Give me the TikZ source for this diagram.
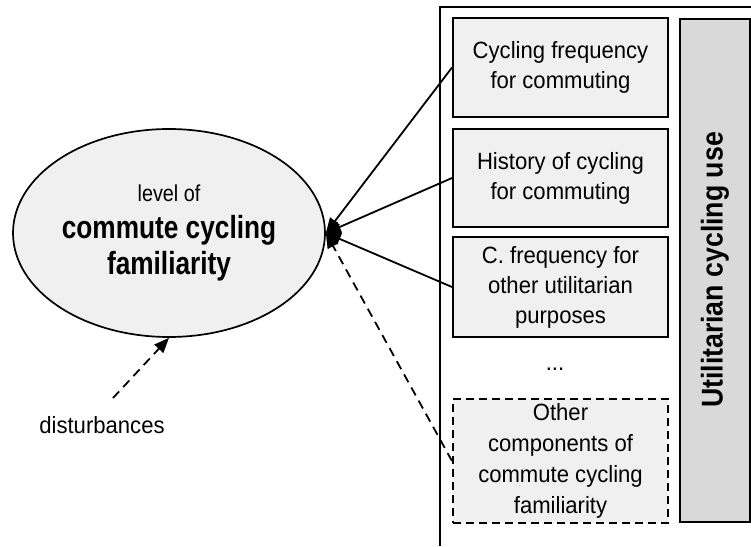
\documentclass[tikz,border=0pt]{standalone}
\usepackage{fontspec}
\setmainfont{Liberation Sans}
\newfontfamily\boxfont[FakeStretch=0.94]{Liberation Sans}
\newfontfamily\leadfont[FakeStretch=0.86]{Liberation Sans}
\newfontfamily\headfont[FakeStretch=0.82]{Liberation Sans Bold}
\newfontfamily\sidefont[FakeStretch=0.89]{Liberation Sans Bold}
\usetikzlibrary{shapes.geometric,arrows.meta}

\definecolor{boxgray}{HTML}{F0F0F0}
\definecolor{bargray}{HTML}{D9D9D9}

\begin{document}
\begin{tikzpicture}[x=1pt,y=-1pt,
  txt/.style={font=\boxfont\fontsize{23.5}{30}\selectfont},
  item/.style={txt, draw=black, line width=2pt, fill=boxgray,
    minimum width=215pt, inner sep=0pt, align=center},
  dashitem/.style={item, dash pattern=on 8pt off 5pt},
  link/.style={line width=1.8pt, -{Triangle[length=15pt,width=12pt]}},
  dlink/.style={link, dash pattern=on 9pt off 6pt}
]
\useasboundingbox (0,0) rectangle (751,546);

% frame of the indicator block
\draw[line width=2pt] (751,7) -- (440,7) -- (440,546);

% latent construct
\node[ellipse, draw=black, line width=1.7pt, fill=boxgray,
  minimum width=312pt, minimum height=208pt, inner sep=0pt,
  align=center, font=\headfont\fontsize{32}{36.5}\selectfont]
  (ell) at (169,233)
  {{\leadfont\fontsize{23}{36.5}\selectfont level of}\\commute cycling\\familiarity};

% indicators
\node[item, minimum height=99pt]  (b1) at (560.5,67.5) {Cycling frequency\\for commuting};
\node[item, minimum height=98pt]  (b2) at (560.5,178)  {History of cycling\\for commuting};
\node[item, minimum height=100pt] (b3) at (560.5,287)  {C. frequency for\\other utilitarian\\purposes};
\node[txt, anchor=base] (dots) at (555,370) {...};
\node[dashitem, minimum height=124pt, font=\boxfont\fontsize{23.5}{31}\selectfont]
  (b4) at (560.5,461) {Other\\components of\\commute cycling\\familiarity};

% side bar
\node[draw=black, line width=2pt, fill=bargray, minimum width=70pt,
  minimum height=503pt, inner sep=0pt] (bar) at (715,270.5) {};
\node[rotate=90, font=\sidefont\fontsize{30}{36}\selectfont] (barlabel) at (715,270) {Utilitarian cycling use};

% disturbance term
\node[txt] (dist) at (102,425) {disturbances};
\coordinate (dstart) at (113,398);

% connectors
\draw[link] (b1.west) -- (ell.east);
\draw[link] (b2.west) -- (ell.east);
\draw[link] (b3.west) -- (ell.east);
\draw[dlink] (b4.west) -- (ell.east);
\draw[dlink] (dstart) -- (ell.south);
\end{tikzpicture}
\end{document}
